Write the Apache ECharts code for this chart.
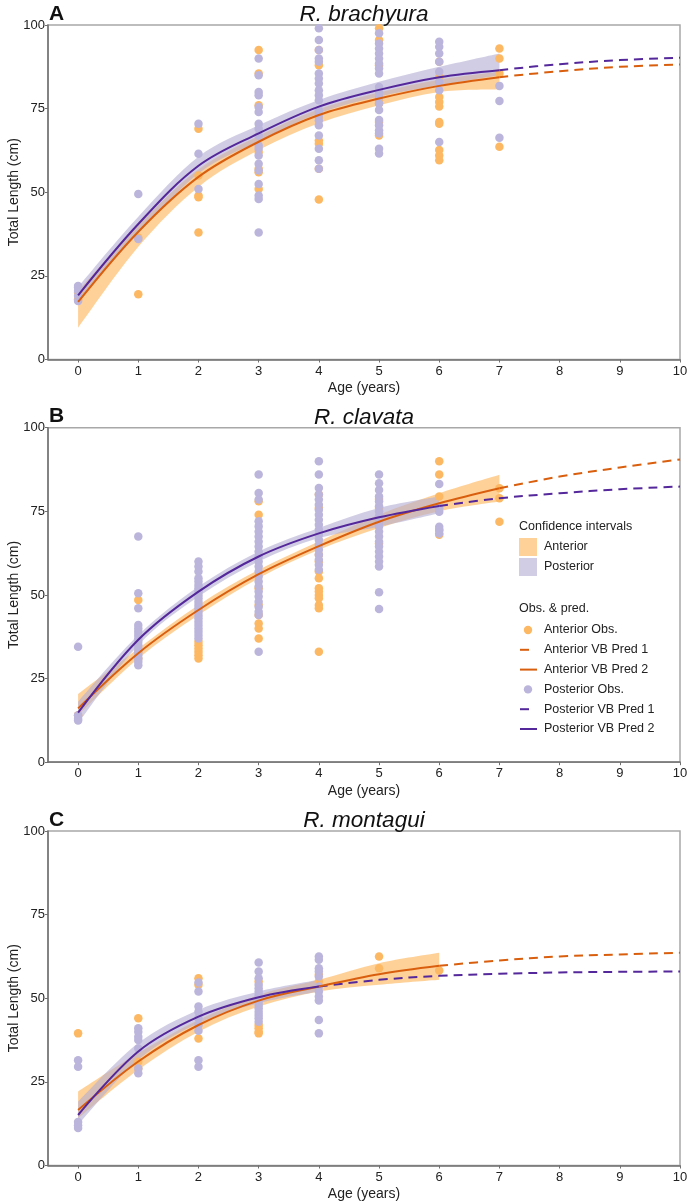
<!DOCTYPE html>
<html>
<head>
<meta charset="utf-8">
<script src="https://cdn.jsdelivr.net/npm/echarts@6/dist/echarts.min.js"></script>
<style>
  html, body { margin: 0; padding: 0; background: #fff; }
  #chart { width: 689px; height: 1202px; }
</style>
</head>
<body>
<div id="chart"></div>
<script>
// ---- data ----
const panelLetters = ['A', 'B', 'C'];
const speciesNames = ['R. brachyura', 'R. clavata', 'R. montagui'];
const xTicks = [0, 1, 2, 3, 4, 5, 6, 7, 8, 9, 10];

// A: R. brachyura
const antAgeA = [0, 1, 2, 3, 4, 5, 6, 7];
const antFitA = [17.2, 38.2, 54.6, 65.1, 73.1, 78.0, 81.8, 84.4];
const antLoA = [9.5, 33.7, 51.6, 62.6, 70.6, 76.0, 80.0, 80.8];
const antHiA = [20.5, 40.2, 56.8, 66.8, 74.8, 79.8, 83.6, 86.0];
const antExtAgeA = [7, 8, 9, 10];
const antExtA = [84.4, 86.2, 87.5, 88.2];
const postAgeA = [0, 1, 2, 3, 4, 5, 6, 7];
const postFitA = [19.2, 40.5, 57.9, 67.6, 75.6, 80.6, 84.4, 86.5];
const postLoA = [17.7, 37.7, 55.6, 65.3, 73.6, 78.6, 82.0, 85.0];
const postHiA = [21.7, 42.7, 60.6, 70.0, 77.6, 83.0, 87.5, 91.5];
const postExtAgeA = [7, 8, 9, 10];
const postExtA = [86.5, 88.3, 89.5, 90.2];
const antObsA = [
  [0, 18], [0, 20], [1, 19.5], [1, 36.5],
  [2, 69], [2, 49], [2, 48.5], [2, 38], [2, 55],
  [3, 92.5], [3, 85.5], [3, 76], [3, 62], [3, 57], [3, 56], [3, 51],
  [4, 92.5], [4, 88], [4, 72.5], [4, 65.5], [4, 64.5], [4, 57], [4, 47.8],
  [5, 99], [5, 95.5], [5, 88], [5, 77.5], [5, 76.5], [5, 71], [5, 67],
  [6, 89], [6, 84.5], [6, 78.5], [6, 77], [6, 75.6], [6, 71], [6, 70.5], [6, 62.6], [6, 61], [6, 59.6],
  [7, 93], [7, 90], [7, 85.5], [7, 63.6]
];
const postObsA = [
  [0, 17.5], [0, 19], [0, 20.5], [0, 21.5], [0, 22],
  [1, 49.5], [1, 36],
  [2, 70.5], [2, 61.5], [2, 51],
  [3, 90], [3, 85], [3, 80], [3, 79], [3, 75.5], [3, 74], [3, 70.5], [3, 69], [3, 67], [3, 64], [3, 63],
  [3, 61], [3, 58.5], [3, 56.5], [3, 52.5], [3, 49], [3, 48], [3, 38],
  [4, 99], [4, 95.5], [4, 92.5], [4, 90], [4, 89], [4, 85.5], [4, 84], [4, 82.5], [4, 80.5], [4, 79],
  [4, 77.5], [4, 74.5], [4, 73], [4, 71.5], [4, 70], [4, 67], [4, 63], [4, 59.6], [4, 57],
  [5, 97.5], [5, 94.5], [5, 93], [5, 91.5], [5, 90], [5, 88.5], [5, 87], [5, 85.5], [5, 81.5], [5, 80],
  [5, 78.5], [5, 76.5], [5, 74.6], [5, 71.6], [5, 70], [5, 68.5], [5, 67.6], [5, 63], [5, 61.6],
  [6, 95], [6, 93.5], [6, 91.5], [6, 89], [6, 86], [6, 83], [6, 80.5], [6, 65],
  [7, 81.8], [7, 77.3], [7, 66.3]
];

// B: R. clavata
const antAgeB = [0, 1, 2, 3, 4, 5, 6, 7];
const antFitB = [16.1, 32.6, 45.5, 56.2, 64.6, 71.9, 77.4, 81.9];
const antLoB = [14.1, 31.0, 44.0, 55.0, 63.5, 70.0, 75.0, 77.9];
const antHiB = [20.4, 34.0, 47.0, 57.5, 66.0, 74.0, 80.4, 85.9];
const antExtAgeB = [7, 8, 9, 10];
const antExtB = [81.9, 85.4, 88.1, 90.5];
const postAgeB = [0, 1, 2, 3, 4, 5, 6];
const postFitB = [14.8, 36.6, 51.0, 61.5, 68.4, 73.2, 76.6];
const postLoB = [11.7, 35.0, 49.5, 60.0, 67.0, 70.4, 74.4];
const postHiB = [18.1, 38.0, 52.5, 63.0, 70.0, 76.0, 79.4];
const postExtAgeB = [6, 7, 8, 9, 10];
const postExtB = [76.6, 78.9, 80.4, 81.6, 82.4];
const antObsB = [
  [0, 14], [1, 48.5], [1, 33], [1, 31],
  [2, 36], [2, 35], [2, 34], [2, 33], [2, 32], [2, 31],
  [3, 78], [3, 74], [3, 52], [3, 47], [3, 44], [3, 41.5], [3, 40], [3, 37],
  [4, 80], [4, 76], [4, 62], [4, 60], [4, 57], [4, 55], [4, 52], [4, 51], [4, 50], [4, 49], [4, 47], [4, 46], [4, 33],
  [5, 78.7], [5, 76], [5, 72], [5, 65.4],
  [6, 90], [6, 86], [6, 79.4], [6, 69.4], [6, 68],
  [7, 81.9], [7, 78.9], [7, 71.9]
];
const postObsB = [
  [0, 34.5], [0, 14], [0, 13], [0, 12.5],
  [1, 67.5], [1, 50.5], [1, 46], [1, 41], [1, 40], [1, 39], [1, 38], [1, 37], [1, 36], [1, 35],
  [1, 34], [1, 33], [1, 32], [1, 31], [1, 30], [1, 29],
  [2, 60], [2, 58.5], [2, 57], [2, 55], [2, 54], [2, 53], [2, 52], [2, 51], [2, 50], [2, 49], [2, 48],
  [2, 47], [2, 46], [2, 45], [2, 44], [2, 43], [2, 42], [2, 41], [2, 40], [2, 39], [2, 38], [2, 37],
  [3, 86], [3, 80.5], [3, 78.5], [3, 72], [3, 70.5], [3, 69], [3, 67.5], [3, 66], [3, 64.5], [3, 63],
  [3, 61.5], [3, 60], [3, 58.5], [3, 57], [3, 55.5], [3, 54], [3, 52.5], [3, 51], [3, 49.5], [3, 48],
  [3, 46.5], [3, 45], [3, 44], [3, 33],
  [4, 90], [4, 86], [4, 82], [4, 80], [4, 78.5], [4, 77], [4, 75.5], [4, 74], [4, 72.5], [4, 71],
  [4, 69.5], [4, 68], [4, 66.5], [4, 65], [4, 63.5], [4, 62], [4, 60.5], [4, 59], [4, 57.5],
  [5, 86], [5, 83.4], [5, 81.4], [5, 79.4], [5, 78], [5, 76.5], [5, 75], [5, 73.5], [5, 72], [5, 70.5],
  [5, 69], [5, 67.5], [5, 66], [5, 64.5], [5, 63], [5, 61.5], [5, 60], [5, 58.5], [5, 50.8], [5, 45.8],
  [6, 83.2], [6, 75.9], [6, 74.9], [6, 70.4], [6, 69.4], [6, 68.4]
];

// C: R. montagui
const antAgeC = [0, 1, 2, 3, 4, 5, 6];
const antFitC = [16.6, 31.1, 42.0, 49.3, 53.5, 57.2, 59.7];
const antLoC = [14.1, 28.6, 40.0, 47.5, 52.0, 54.0, 55.5];
const antHiC = [22.1, 33.6, 43.5, 51.0, 55.5, 60.5, 63.6];
const antExtAgeC = [6, 7, 8, 9, 10];
const antExtC = [59.7, 61.3, 62.5, 63.1, 63.6];
const postAgeC = [0, 1, 2, 3, 4];
const postFitC = [15.1, 34.1, 44.5, 50.3, 53.5];
const postLoC = [12.2, 31.6, 42.5, 48.5, 52.0];
const postHiC = [19.1, 36.6, 46.5, 52.0, 55.5];
const postExtAgeC = [4, 5, 6, 7, 8, 9, 10];
const postExtC = [53.5, 55.5, 56.7, 57.3, 57.7, 57.9, 58.0];
const antObsC = [
  [0, 39.5], [1, 44], [1, 31], [1, 29],
  [2, 56], [2, 54], [2, 38],
  [3, 55], [3, 42], [3, 41], [3, 40], [3, 39.5],
  [4, 57], [4, 55], [5, 62.5], [5, 59], [6, 58.3]
];
const postObsC = [
  [0, 31.5], [0, 29.5], [0, 13], [0, 12], [0, 11.2],
  [1, 41], [1, 40], [1, 38.5], [1, 37.5], [1, 35], [1, 29], [1, 27.6],
  [2, 54.7], [2, 52], [2, 47.5], [2, 46], [2, 44], [2, 42], [2, 40.3], [2, 31.5], [2, 29.5],
  [3, 60.7], [3, 58], [3, 56], [3, 54], [3, 53], [3, 52], [3, 51], [3, 50], [3, 49], [3, 48],
  [3, 47], [3, 46], [3, 45], [3, 44], [3, 43],
  [4, 62.5], [4, 61.5], [4, 59], [4, 58], [4, 56.5], [4, 53.5], [4, 52], [4, 50.5], [4, 49.3], [4, 43.5], [4, 39.5]
];

const ciLabels = ['Anterior', 'Posterior'];
const obsLabels = ['Anterior Obs.', 'Anterior VB Pred 1', 'Anterior VB Pred 2',
  'Posterior Obs.', 'Posterior VB Pred 1', 'Posterior VB Pred 2'];

// ---- styling ----
const FONT = '"Liberation Sans", Arial, sans-serif';
const antDot = '#fdb863';
const antLine = '#d95f0e';
const antBand = 'rgba(253,184,99,0.65)';
const postDot = '#bbb5dc';
const postLine = '#54279a';
const postBand = 'rgba(178,171,210,0.6)';
const gridTops = [25, 427.7, 831];
const gridH = 334.5;

const panels = [
  { antAge: antAgeA, antFit: antFitA, antLo: antLoA, antHi: antHiA, antExtAge: antExtAgeA, antExt: antExtA,
    postAge: postAgeA, postFit: postFitA, postLo: postLoA, postHi: postHiA, postExtAge: postExtAgeA, postExt: postExtA,
    antObs: antObsA, postObs: postObsA },
  { antAge: antAgeB, antFit: antFitB, antLo: antLoB, antHi: antHiB, antExtAge: antExtAgeB, antExt: antExtB,
    postAge: postAgeB, postFit: postFitB, postLo: postLoB, postHi: postHiB, postExtAge: postExtAgeB, postExt: postExtB,
    antObs: antObsB, postObs: postObsB },
  { antAge: antAgeC, antFit: antFitC, antLo: antLoC, antHi: antHiC, antExtAge: antExtAgeC, antExt: antExtC,
    postAge: postAgeC, postFit: postFitC, postLo: postLoC, postHi: postHiC, postExtAge: postExtAgeC, postExt: postExtC,
    antObs: antObsC, postObs: postObsC }
];

const zip = (xs, ys) => xs.map((x, i) => [x, ys[i]]);

// catmull-rom through pixel points -> svg path segments
function curveTo(pts) {
  let d = '';
  for (let i = 0; i < pts.length - 1; i++) {
    const p0 = pts[i - 1] || pts[i], p1 = pts[i], p2 = pts[i + 1], p3 = pts[i + 2] || p2;
    const c1 = [p1[0] + (p2[0] - p0[0]) / 6, p1[1] + (p2[1] - p0[1]) / 6];
    const c2 = [p2[0] - (p3[0] - p1[0]) / 6, p2[1] - (p3[1] - p1[1]) / 6];
    d += ' C' + c1.join(',') + ' ' + c2.join(',') + ' ' + p2.join(',');
  }
  return d;
}

function bandSeries(idx, ages, lo, hi, color) {
  return {
    type: 'custom',
    xAxisIndex: idx,
    yAxisIndex: idx,
    silent: true,
    data: ages.map((a, i) => [a, lo[i], hi[i]]),
    encode: { x: 0, y: [1, 2] },
    renderItem: function (params, api) {
      if (params.dataIndex !== 0) return null;
      const up = ages.map((a, i) => api.coord([a, hi[i]]));
      const dn = ages.map((a, i) => api.coord([a, lo[i]])).reverse();
      const d = 'M' + up[0].join(',') + curveTo(up) + ' L' + dn[0].join(',') + curveTo(dn) + ' Z';
      return { type: 'path', shape: { pathData: d }, style: { fill: color } };
    }
  };
}

const grids = [], xAxes = [], yAxes = [], series = [], graphics = [];

panels.forEach((p, i) => {
  grids.push({ left: 48, right: 9, top: gridTops[i], height: gridH, show: true, outerBoundsMode: 'none',
    containLabel: false, borderColor: '#a8a8a8', borderWidth: 1.5, backgroundColor: 'transparent' });
  xAxes.push({
    type: 'value', gridIndex: i, min: -0.5, max: 10,
    name: 'Age (years)', nameLocation: 'middle', nameGap: 22, nameMoveOverlap: false,
    nameTextStyle: { fontFamily: FONT, fontSize: 14, color: '#222' },
    axisLine: { show: true, onZero: false, lineStyle: { color: '#707070', width: 1.5 } },
    axisTick: { show: true, customValues: xTicks, length: 3, lineStyle: { color: '#707070' } },
    axisLabel: { customValues: xTicks, fontFamily: FONT, fontSize: 13, color: '#222', margin: 5 },
    splitLine: { show: false }
  });
  yAxes.push({
    type: 'value', gridIndex: i, min: 0, max: 100, interval: 25,
    name: 'Total Length (cm)', nameLocation: 'middle', nameGap: 27, nameRotate: 90, nameMoveOverlap: false,
    nameTextStyle: { fontFamily: FONT, fontSize: 14, color: '#222' },
    axisLine: { show: true, onZero: false, lineStyle: { color: '#707070', width: 1.5 } },
    axisTick: { show: true, length: 3, lineStyle: { color: '#707070' } },
    axisLabel: { fontFamily: FONT, fontSize: 13, color: '#222', margin: 3, padding: [0, 0, 6, 0] },
    splitLine: { show: false }
  });

  series.push({ type: 'scatter', xAxisIndex: i, yAxisIndex: i, data: p.antObs, symbolSize: 8.5,
    itemStyle: { color: antDot, opacity: 1 }, silent: true });
  series.push({ type: 'scatter', xAxisIndex: i, yAxisIndex: i, data: p.postObs, symbolSize: 8.5,
    itemStyle: { color: postDot, opacity: 1 }, silent: true });
  series.push(bandSeries(i, p.antAge, p.antLo, p.antHi, antBand));
  series.push(bandSeries(i, p.postAge, p.postLo, p.postHi, postBand));

  const lineBase = { type: 'line', xAxisIndex: i, yAxisIndex: i, showSymbol: false, smooth: 0.35, silent: true };
  series.push(Object.assign({}, lineBase, { data: zip(p.antExtAge, p.antExt),
    lineStyle: { color: antLine, width: 2, type: [9, 6] } }));
  series.push(Object.assign({}, lineBase, { data: zip(p.postExtAge, p.postExt),
    lineStyle: { color: postLine, width: 2, type: [9, 6] } }));
  series.push(Object.assign({}, lineBase, { data: zip(p.antAge, p.antFit),
    lineStyle: { color: antLine, width: 2 } }));
  series.push(Object.assign({}, lineBase, { data: zip(p.postAge, p.postFit),
    lineStyle: { color: postLine, width: 2 } }));

  const ty = gridTops[i] - 11;
  graphics.push({ type: 'text', x: 49, y: ty, style: { text: panelLetters[i], font: 'bold 21px ' + FONT,
    fill: '#111', verticalAlign: 'middle' } });
  graphics.push({ type: 'text', x: 364, y: ty + 1, style: { text: speciesNames[i], font: 'italic 22.5px ' + FONT,
    fill: '#111', align: 'center', verticalAlign: 'middle' } });
});

// legend in panel B
const lgX = 519, txX = 544;
const lgFont = '12.5px ' + FONT;
graphics.push({ type: 'text', x: lgX, y: 527, style: { text: 'Confidence intervals', font: lgFont, fill: '#222', verticalAlign: 'middle' } });
[antBand, postBand].forEach((c, k) => {
  graphics.push({ type: 'rect', shape: { x: lgX, y: 538 + k * 20, width: 18, height: 18 }, style: { fill: c } });
  graphics.push({ type: 'text', x: txX, y: 547 + k * 20, style: { text: ciLabels[k], font: lgFont, fill: '#222', verticalAlign: 'middle' } });
});
graphics.push({ type: 'text', x: lgX, y: 609, style: { text: 'Obs. & pred.', font: lgFont, fill: '#222', verticalAlign: 'middle' } });
obsLabels.forEach((t, k) => {
  const y = 630 + k * 19.8;
  const isAnt = k < 3;
  const kind = k % 3;
  if (kind === 0) {
    graphics.push({ type: 'circle', shape: { cx: 528, cy: y, r: 4.2 }, style: { fill: isAnt ? antDot : postDot } });
  } else {
    graphics.push({ type: 'line', shape: { x1: 520, y1: y, x2: kind === 1 ? 529 : 537, y2: y },
      style: { stroke: isAnt ? antLine : postLine, lineWidth: 2 } });
  }
  graphics.push({ type: 'text', x: txX, y: y, style: { text: t, font: lgFont, fill: '#222', verticalAlign: 'middle' } });
});

const chart = echarts.init(document.getElementById('chart'), null, { renderer: 'canvas' });
chart.setOption({
  animation: false,
  backgroundColor: '#fff',
  grid: grids,
  xAxis: xAxes,
  yAxis: yAxes,
  series: series,
  graphic: graphics
});
</script>
</body>
</html>
